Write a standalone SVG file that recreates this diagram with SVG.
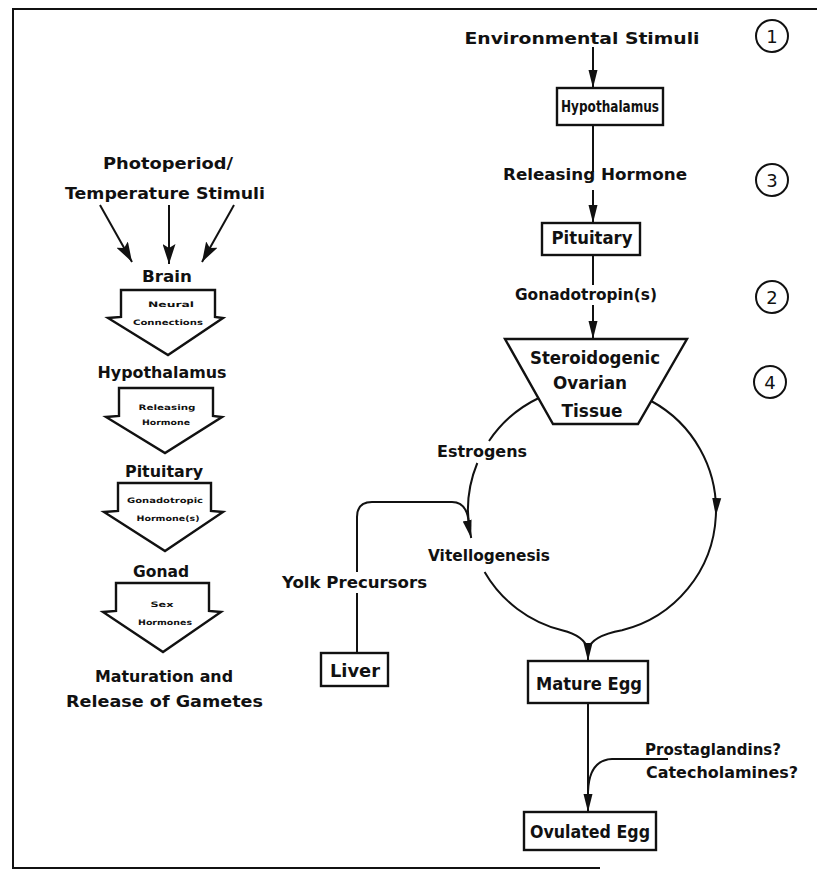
<svg xmlns="http://www.w3.org/2000/svg" width="817" height="871" viewBox="0 0 817 871">
<style>
text{font-family:"DejaVu Sans","Liberation Sans",sans-serif;font-weight:bold;fill:#111;text-anchor:middle;}
.lbl{font-size:16px;}
.box{font-size:17px;}
.boxs{font-size:15.5px;}
.sm{font-size:7.5px;}
.num{font-size:18px;font-weight:normal;}
.st{text-anchor:start;}
.shape{fill:#fff;stroke:#111;stroke-width:2.4;stroke-linejoin:miter;}
.ln{fill:none;stroke:#111;stroke-width:2;}
.circ{fill:none;stroke:#111;stroke-width:2;}
</style>
<defs>
<marker id="ah" markerUnits="userSpaceOnUse" markerWidth="18" markerHeight="10" refX="18" refY="5" orient="auto"><path d="M0,0.5 L18,5 L0,9.5 z" fill="#111"/></marker>
<marker id="ahb" markerUnits="userSpaceOnUse" markerWidth="20" markerHeight="13" refX="20" refY="6.5" orient="auto"><path d="M0,0 L20,6.5 L0,13 L4,6.5 z" fill="#111"/></marker>
</defs>
<rect width="817" height="871" fill="#fff"/>
<path d="M817,9 L13,9 L13,868 L600,868" fill="none" stroke="#111" stroke-width="2"/>

<g id="connectors">
<line class="ln" x1="100" y1="205" x2="132" y2="262" marker-end="url(#ahb)"/>
<line class="ln" x1="169" y1="205" x2="169" y2="264" marker-end="url(#ahb)"/>
<line class="ln" x1="234" y1="205" x2="202" y2="262" marker-end="url(#ahb)"/>
<line class="ln" x1="593" y1="47" x2="593" y2="88" marker-end="url(#ah)"/>
<line class="ln" x1="593" y1="125" x2="593" y2="172"/>
<line class="ln" x1="593" y1="190" x2="593" y2="223" marker-end="url(#ah)"/>
<line class="ln" x1="593" y1="255" x2="593" y2="285"/>
<line class="ln" x1="593" y1="305" x2="593" y2="339" marker-end="url(#ah)"/>
<path class="ln" d="M538.8,398 A124,124 0 0 0 489,441"/>
<path class="ln" d="M477.3,463 A124,124 0 0 0 471.2,538" marker-end="url(#ah)"/>
<path class="ln" d="M484.6,572 A124,124 0 0 0 562,630.3 Q585,636 588,650 L588,661" marker-end="url(#ah)"/>
<path class="ln" d="M651.2,401 A124,124 0 0 1 715.85,516" marker-end="url(#ah)"/>
<path class="ln" d="M715.85,516 A124,124 0 0 1 622,630.3 Q591,636 588,650"/>
<path class="ln" d="M357,572 L357,517 Q357,502 372,502 L452,502 Q466,502 468.5,520"/>
<line class="ln" x1="357" y1="593" x2="357" y2="653"/>
<line class="ln" x1="588" y1="703" x2="588" y2="812" marker-end="url(#ah)"/>
<path class="ln" d="M668,759 L612,759 Q589,760 588,792"/>
</g>

<g id="photoperiod"><text class="lbl" x="168" y="169" textLength="130" lengthAdjust="spacingAndGlyphs">Photoperiod/</text>
<text class="lbl" x="165" y="199" textLength="200" lengthAdjust="spacingAndGlyphs">Temperature Stimuli</text></g>
<g id="brain"><text class="lbl" x="167" y="282" textLength="50" lengthAdjust="spacingAndGlyphs">Brain</text></g>
<g id="neural-arrow"><path class="shape" d="M121,290 L215,290 L215,317 L223,318 L168,355 L108,318 L121,317 Z"/>
<text class="sm" x="171" y="307" textLength="46" lengthAdjust="spacingAndGlyphs">Neural</text>
<text class="sm" x="168" y="325" textLength="70" lengthAdjust="spacingAndGlyphs">Connections</text></g>
<g id="hypothalamus-left"><text class="lbl" x="162" y="378" textLength="129" lengthAdjust="spacingAndGlyphs">Hypothalamus</text></g>
<g id="releasing-arrow"><path class="shape" d="M119,388 L213,388 L213,416 L222,417 L165,453 L106,417 L119,416 Z"/>
<text class="sm" x="167" y="410" textLength="57" lengthAdjust="spacingAndGlyphs">Releasing</text>
<text class="sm" x="166" y="425" textLength="48" lengthAdjust="spacingAndGlyphs">Hormone</text></g>
<g id="pituitary-left"><text class="lbl" x="164" y="477" textLength="78" lengthAdjust="spacingAndGlyphs">Pituitary</text></g>
<g id="gonadotropic-arrow"><path class="shape" d="M118,483 L211,483 L211,511 L223,512 L165,551 L104,512 L118,511 Z"/>
<text class="sm" x="165" y="503" textLength="76" lengthAdjust="spacingAndGlyphs">Gonadotropic</text>
<text class="sm" x="168" y="521" textLength="63" lengthAdjust="spacingAndGlyphs">Hormone(s)</text></g>
<g id="gonad"><text class="lbl" x="161" y="577" textLength="56" lengthAdjust="spacingAndGlyphs">Gonad</text></g>
<g id="sex-arrow"><path class="shape" d="M116,583 L209,583 L209,611 L221,612 L163,652 L103,612 L116,611 Z"/>
<text class="sm" x="162" y="607" textLength="23" lengthAdjust="spacingAndGlyphs">Sex</text>
<text class="sm" x="165" y="625" textLength="54" lengthAdjust="spacingAndGlyphs">Hormones</text></g>
<g id="maturation"><text class="lbl" x="164" y="682" textLength="138" lengthAdjust="spacingAndGlyphs">Maturation and</text>
<text class="lbl" x="164.5" y="707" textLength="197" lengthAdjust="spacingAndGlyphs">Release of Gametes</text></g>

<g id="env-stimuli"><text class="lbl" x="582" y="44" textLength="235" lengthAdjust="spacingAndGlyphs">Environmental Stimuli</text></g>
<g id="hypothalamus"><rect class="shape" x="557" y="88" width="106" height="37"/>
<text class="boxs" x="610" y="112" textLength="98" lengthAdjust="spacingAndGlyphs">Hypothalamus</text></g>
<g id="releasing-hormone"><text class="lbl" x="595" y="180" textLength="184" lengthAdjust="spacingAndGlyphs">Releasing Hormone</text></g>
<g id="pituitary"><rect class="shape" x="542" y="223" width="98" height="32"/>
<text class="box" x="592" y="244" textLength="81" lengthAdjust="spacingAndGlyphs">Pituitary</text></g>
<g id="gonadotropins"><text class="lbl" x="586" y="300" textLength="142" lengthAdjust="spacingAndGlyphs">Gonadotropin(s)</text></g>
<g id="ovarian-tissue"><path class="shape" d="M505,339 L687,339 L638,424 L553,424 Z"/>
<text class="box" x="595" y="364" textLength="130" lengthAdjust="spacingAndGlyphs">Steroidogenic</text>
<text class="box" x="590" y="389" textLength="74" lengthAdjust="spacingAndGlyphs">Ovarian</text>
<text class="box" x="592" y="417" textLength="61" lengthAdjust="spacingAndGlyphs">Tissue</text></g>
<g id="estrogens"><text class="lbl" x="482" y="457" textLength="90" lengthAdjust="spacingAndGlyphs">Estrogens</text></g>
<g id="vitellogenesis"><text class="lbl" x="489" y="561" textLength="122" lengthAdjust="spacingAndGlyphs">Vitellogenesis</text></g>
<g id="yolk-precursors"><text class="lbl" x="354.5" y="588" textLength="145" lengthAdjust="spacingAndGlyphs">Yolk Precursors</text></g>
<g id="liver"><rect class="shape" x="321" y="653" width="67" height="33"/>
<text class="box" x="355" y="677" textLength="50" lengthAdjust="spacingAndGlyphs">Liver</text></g>
<g id="mature-egg"><rect class="shape" x="528" y="661" width="120" height="42"/>
<text class="box" x="589" y="690" textLength="106" lengthAdjust="spacingAndGlyphs">Mature Egg</text></g>
<g id="prostaglandins"><text class="lbl st" x="645" y="755" textLength="136" lengthAdjust="spacingAndGlyphs">Prostaglandins?</text>
<text class="lbl st" x="646" y="778" textLength="152" lengthAdjust="spacingAndGlyphs">Catecholamines?</text></g>
<g id="ovulated-egg"><rect class="shape" x="524" y="812" width="132" height="38"/>
<text class="box" x="590" y="838" textLength="120" lengthAdjust="spacingAndGlyphs">Ovulated Egg</text></g>

<g id="step-1"><circle class="circ" cx="772" cy="36" r="16"/><text class="num" x="772" y="42.5">1</text></g>
<g id="step-3"><circle class="circ" cx="772" cy="180" r="16"/><text class="num" x="772" y="186.5">3</text></g>
<g id="step-2"><circle class="circ" cx="772" cy="297" r="16"/><text class="num" x="772" y="303.5">2</text></g>
<g id="step-4"><circle class="circ" cx="770" cy="382" r="16"/><text class="num" x="770" y="388.5">4</text></g>
</svg>
